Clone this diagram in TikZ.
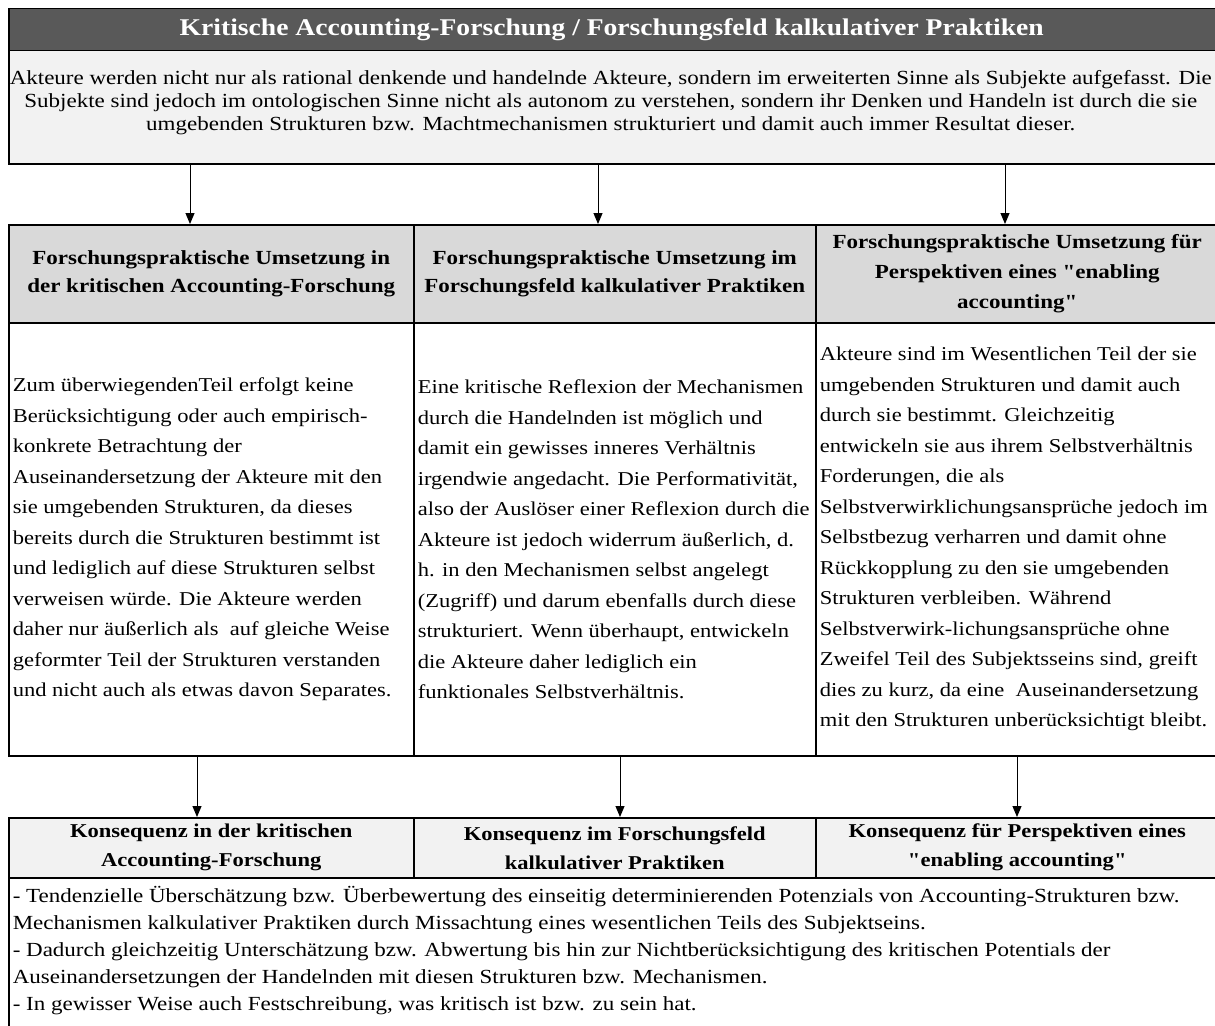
\documentclass[tikz,border=0pt]{standalone}
\usepackage{fontspec}
\setmainfont{Liberation Serif}[FakeStretch=1.15, Ligatures=TeXOff]
\usetikzlibrary{arrows.meta}
\definecolor{titlegray}{HTML}{595959}
\definecolor{introgray}{HTML}{F2F2F2}
\definecolor{headgray}{HTML}{D9D9D9}

\begin{document}
\begin{tikzpicture}[x=1pt, y=-1pt, every node/.style={rectangle, draw=black, line width=1.5pt, inner sep=0pt, anchor=north west, font=\fontsize{20}{27}\selectfont}, every edge/.style={draw=black, line width=1pt, -{Triangle[length=11pt, width=9pt]}}]
				\useasboundingbox (0,0) rectangle (1215,1025);
				
				\node[fill=titlegray, minimum width=1218pt, minimum height=42pt] (title) at (8,8){};
				\node[draw=none, anchor=center, text=white, font=\fontsize{24}{30}\selectfont\bfseries] (text00) at ([xshift=-6pt]title.center){Kritische Accounting-Forschung / Forschungsfeld kalkulativer Praktiken};
				\node[fill=introgray, minimum width=1218pt, minimum height=113pt] (intro) at (8,50){};
				\node[draw=none, anchor=center, align=center, font=\fontsize{20}{23}\selectfont] (text0) at ([xshift=-7pt, yshift=5pt]intro.center){Akteure werden nicht nur als rational denkende und handelnde Akteure, sondern im erweiterten Sinne als Subjekte aufgefasst. Die\\ Subjekte sind jedoch im ontologischen Sinne nicht als autonom zu verstehen, sondern ihr Denken und Handeln ist durch die sie\\ umgebenden Strukturen bzw. Machtmechanismen strukturiert und damit auch immer Resultat dieser.};
				
				\coordinate (a1) at (190,163);
				\coordinate (a2) at (598,163);
				\coordinate (a3) at (1005,163);
				
				\node[fill=headgray, minimum width=405pt, minimum height=98pt, align=center, font=\fontsize{20}{28}\selectfont\bfseries] (head1) at (8,224){Forschungspraktische Umsetzung in\\ der kritischen Accounting-Forschung};
				\node[fill=headgray, minimum width=402pt, minimum height=98pt, align=center, font=\fontsize{20}{28}\selectfont\bfseries] (head2) at (413,224){Forschungspraktische Umsetzung im\\ Forschungsfeld kalkulativer Praktiken};
				\node[fill=headgray, minimum width=411pt, minimum height=98pt] (head3) at (815,224){};
				\node[draw=none, anchor=center, align=center, font=\fontsize{20}{30}\selectfont\bfseries] (text30) at ([xshift=-4pt]head3.center){Forschungspraktische Umsetzung für\\ Perspektiven eines "enabling\\ accounting"};
				
				\path (a1) edge (a1 |- head1.north);
				\path (a2) edge (a2 |- head2.north);
				\path (a3) edge (a3 |- head3.north);
				
				\node[minimum width=405pt, minimum height=433pt] (body1) at (8,322){};
				\node[minimum width=402pt, minimum height=433pt] (body2) at (413,322){};
				\node[minimum width=411pt, minimum height=433pt] (body3) at (815,322){};
				
				\node[draw=none, anchor=west, align=left, font=\fontsize{19.6}{30.5}\selectfont] (text1) at ([xshift=4pt]body1.west){Zum überwiegendenTeil erfolgt keine\\ Berücksichtigung oder auch empirisch-\\ konkrete Betrachtung der\\ Auseinandersetzung der Akteure mit den\\ sie umgebenden Strukturen, da dieses\\ bereits durch die Strukturen bestimmt ist\\ und lediglich auf diese Strukturen selbst\\ verweisen würde. Die Akteure werden\\ daher nur äußerlich als\ \ auf gleiche Weise\\ geformter Teil der Strukturen verstanden\\ und nicht auch als etwas davon Separates.};
				\node[draw=none, anchor=west, align=left, font=\fontsize{19.6}{30.5}\selectfont] (text2) at ([xshift=4pt]body2.west){Eine kritische Reflexion der Mechanismen\\ durch die Handelnden ist möglich und\\ damit ein gewisses inneres Verhältnis\\ irgendwie angedacht. Die Performativität,\\ also der Auslöser einer Reflexion durch die\\ Akteure ist jedoch widerrum äußerlich, d.\\ h. in den Mechanismen selbst angelegt\\ (Zugriff) und darum ebenfalls durch diese\\ strukturiert. Wenn überhaupt, entwickeln\\ die Akteure daher lediglich ein\\ funktionales Selbstverhältnis.};
				\node[draw=none, anchor=west, align=left, font=\fontsize{19.6}{30.5}\selectfont] (text3) at ([xshift=4pt]body3.west){Akteure sind im Wesentlichen Teil der sie\\ umgebenden Strukturen und damit auch\\ durch sie bestimmt. Gleichzeitig\\ entwickeln sie aus ihrem Selbstverhältnis\\ Forderungen, die als\\ Selbstverwirklichungsansprüche jedoch im\\ Selbstbezug verharren und damit ohne\\ Rückkopplung zu den sie umgebenden\\ Strukturen verbleiben. Während\\ Selbstverwirk-lichungsansprüche ohne\\ Zweifel Teil des Subjektsseins sind, greift\\ dies zu kurz, da eine\ \ Auseinandersetzung\\ mit den Strukturen unberücksichtigt bleibt.};
				
				\coordinate (b1) at (197,755);
				\coordinate (b2) at (620,755);
				\coordinate (b3) at (1017,755);
				
				\node[fill=introgray, minimum width=405pt, minimum height=60pt, align=center, font=\fontsize{19.6}{29}\selectfont\bfseries] (cons1) at (8,817){Konsequenz in der kritischen\\ Accounting-Forschung};
				\node[fill=introgray, minimum width=402pt, minimum height=60pt, align=center, font=\fontsize{19.6}{29}\selectfont\bfseries] (cons2) at (413,817){Konsequenz im Forschungsfeld\\ kalkulativer Praktiken};
				\node[fill=introgray, minimum width=411pt, minimum height=60pt] (cons3) at (815,817){};
				\node[draw=none, anchor=center, align=center, font=\fontsize{19.6}{29}\selectfont\bfseries] (text31) at ([xshift=-4pt]cons3.center){Konsequenz für Perspektiven eines\\ "enabling accounting"};
				
				\path (b1) edge (b1 |- cons1.north);
				\path (b2) edge (b2 |- cons2.north);
				\path (b3) edge (b3 |- cons3.north);
				
				\node[minimum width=1218pt, minimum height=200pt] (result) at (8,877){};
				\node[draw=none, align=left] (text4) at (12,886){- Tendenzielle Überschätzung bzw. Überbewertung des einseitig determinierenden Potenzials von Accounting-Strukturen bzw.\\ Mechanismen kalkulativer Praktiken durch Missachtung eines wesentlichen Teils des Subjektseins.\\ - Dadurch gleichzeitig Unterschätzung bzw. Abwertung bis hin zur Nichtberücksichtigung des kritischen Potentials der\\ Auseinandersetzungen der Handelnden mit diesen Strukturen bzw. Mechanismen.\\ - In gewisser Weise auch Festschreibung, was kritisch ist bzw. zu sein hat.};
\end{tikzpicture}
\end{document}
